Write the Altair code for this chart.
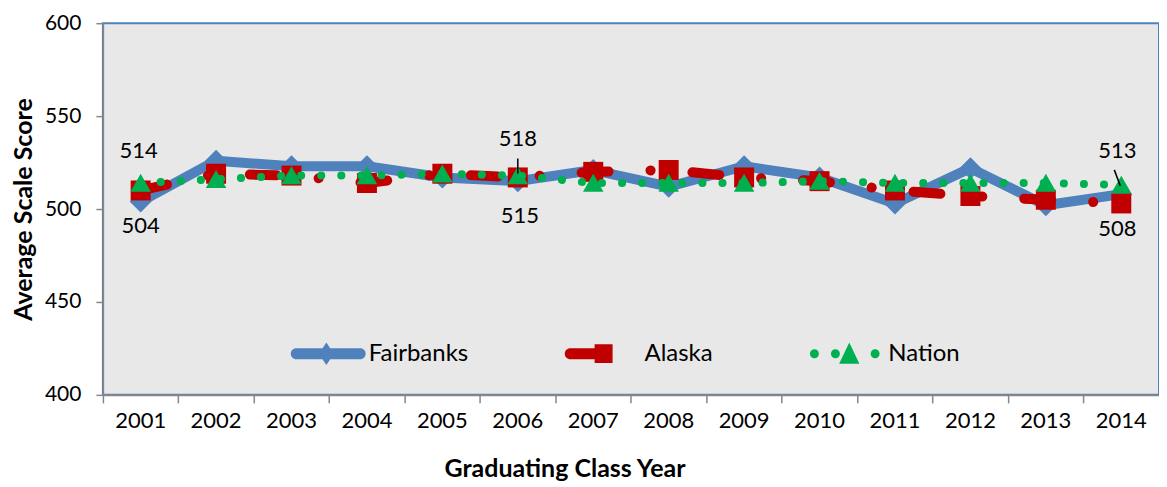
import altair as alt
import pandas as pd

years = [str(y) for y in range(2001, 2015)]
fairbanks = [504, 526, 523, 523, 517, 515, 521, 512, 523, 517, 503, 522, 502, 508]
alaska = [510, 519, 518, 514, 519, 517, 520, 521, 517, 515, 510, 507, 505, 503]
nation = [514, 516, 518, 518, 519, 518, 514, 514, 514, 515, 514, 514, 514, 513]
series_names = ["Fairbanks", "Alaska", "Nation"]
series_colors = ["#4F81BD", "#C00000", "#00B050"]

label_years = ["2001", "2001", "2006", "2006", "2014", "2014"]
label_values = [514, 504, 518, 515, 513, 508]

leader_years = ["2006", "2014"]
leader_values = [518, 513]

FONT = "Lato"
GRAY = "#868686"

rows = []
for name, vals in zip(series_names, [fairbanks, alaska, nation]):
    for yr, v in zip(years, vals):
        rows.append({"year": yr, "series": name, "value": v})
df = pd.DataFrame(rows)

x_axis = alt.Axis(title="Graduating Class Year", bandPosition=0,
                  tickSize=8, tickColor=GRAY, tickWidth=1.5, domainColor=GRAY, domainWidth=2,
                  labelPadding=8, labelAngle=0, labelFontSize=22, labelColor="black",
                  titleFontSize=25, titleFontWeight="bold", titlePadding=25, titleColor="black",
                  titleX=462, titleAlign="center")
y_axis = alt.Axis(title="Average Scale Score", values=[400, 450, 500, 550, 600], grid=False,
                  tickSize=7, tickColor=GRAY, tickWidth=1.5, domainColor=GRAY, domainWidth=1.5,
                  labelPadding=15, labelFontSize=21, labelColor="black",
                  titleFontSize=25, titleFontWeight="bold", titlePadding=8, titleColor="black")

X = alt.X("year:N", scale=alt.Scale(type="band", domain=years, paddingInner=0, paddingOuter=0),
          bandPosition=0.5, axis=x_axis)
Y = alt.Y("value:Q", scale=alt.Scale(domain=[400, 600]), axis=y_axis)

base = alt.Chart(df).encode(x=X, y=Y)

tri_path = "M0,-0.9L1,0.85L-1,0.85Z"

layers = []
# Fairbanks
fb = base.transform_filter(alt.datum.series == "Fairbanks")
layers.append(fb.mark_line(color=series_colors[0], strokeWidth=10, strokeCap="round", strokeJoin="round"))
layers.append(fb.mark_point(shape="diamond", filled=True, size=484, opacity=1, color=series_colors[0]))
# Alaska
ak = base.transform_filter(alt.datum.series == "Alaska")
layers.append(ak.mark_line(color=series_colors[1], strokeWidth=10, strokeCap="round",
                           strokeJoin="round", strokeDash=[27, 42, 0.1, 42]))
layers.append(ak.mark_point(shape="square", filled=True, size=400, opacity=1, color=series_colors[1]))
# Nation
na = base.transform_filter(alt.datum.series == "Nation")
layers.append(na.mark_line(color=series_colors[2], strokeWidth=8, strokeCap="round",
                           strokeDash=[0.1, 20]))
layers.append(na.mark_point(shape=tri_path, filled=True, size=420, opacity=1, color=series_colors[2]))

# data labels
lab_df = pd.DataFrame({"year": label_years, "value": label_values})
lab_df["text"] = lab_df["value"].astype(str)
label_offsets = [(-2, -32), (0, 24), (0, -37), (2, 35), (-4, -34), (-4, 35)]
for i, (dx, dy) in enumerate(label_offsets):
    layers.append(
        alt.Chart(lab_df.iloc[[i]]).mark_text(font=FONT, fontSize=22, color="black", dx=dx, dy=dy)
        .encode(x=X, y=Y, text="text:N")
    )

# leader lines
ld_df = pd.DataFrame({"year": leader_years, "value": leader_values})
layers.append(
    alt.Chart(ld_df.iloc[[0]]).mark_rule(color="black", strokeWidth=1.5, yOffset=-17, y2Offset=-2)
    .encode(x=X, y=Y, y2="value:Q")
)
layers.append(
    alt.Chart(ld_df.iloc[[1]]).mark_rule(color="black", strokeWidth=1.5, xOffset=-7, x2Offset=-1,
                                          yOffset=-15, y2Offset=1)
    .encode(x=X, x2=alt.X2("year:N"), y=Y, y2="value:Q")
)

# legend layer (no rows, legend from scale domain)
fb_sym = ("M-0.853,-0.147L0.853,-0.147A0.147,0.147 0 0 1 0.853,0.147L-0.853,0.147"
          "A0.147,0.147 0 0 1 -0.853,-0.147Z"
          "M-0.05,-0.3L0.15,0L-0.05,0.3L-0.25,0Z")
ak_sym = ("M-0.9,-0.147L-0.2,-0.147L-0.2,0.147L-0.9,0.147A0.147,0.147 0 0 1 -0.9,-0.147Z"
          "M-0.25,-0.25L0.23,-0.25L0.23,0.25L-0.25,0.25Z")
def dot(cx, r=0.12):
    return f"M{cx - r:.3f},0A{r},{r} 0 1 1 {cx + r:.3f},0A{r},{r} 0 1 1 {cx - r:.3f},0Z"
na_sym = dot(-0.89) + dot(-0.33) + dot(0.73) + "M0.04,-0.3L0.31,0.27L-0.23,0.27Z"

legend = alt.Legend(orient="none", legendX=188, legendY=293, direction="horizontal", title=None,
                    symbolSize=5625, symbolStrokeWidth=0, symbolOpacity=1, labelOffset=3,
                    labelFontSize=24, labelFont=FONT, labelColor="black", columnPadding=96,
                    padding=0, labelLimit=300)
leg_layer = alt.Chart(df).transform_filter("false").mark_point(filled=True).encode(
    x=X, y=Y,
    color=alt.Color("series:N", scale=alt.Scale(domain=series_names, range=series_colors), legend=legend),
    shape=alt.Shape("series:N", scale=alt.Scale(domain=series_names, range=[fb_sym, ak_sym, na_sym]),
                    legend=legend),
)
layers.append(leg_layer)

chart = alt.layer(*layers).properties(
    width=1057, height=372,
    padding={"left": 3, "top": 4, "right": 0, "bottom": 0},
).configure_view(
    fill="#E8E8E8", stroke="#4F81BD", strokeWidth=2
).configure_axis(
    labelFont=FONT, titleFont=FONT
).configure_text(font=FONT)

chart.save("out.html", embed_options={"renderer": "svg", "actions": False})
